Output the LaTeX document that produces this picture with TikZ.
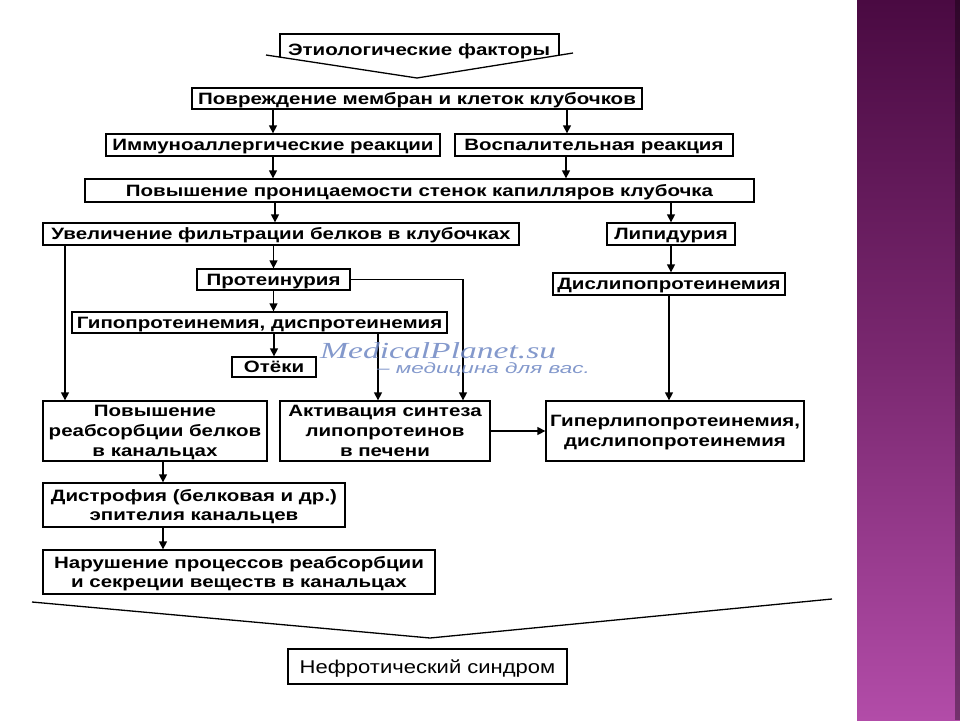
\documentclass[tikz,border=0pt]{standalone}
\usepackage{fontspec}
\setmainfont{Liberation Sans}
\newfontfamily\boxfont{Liberation Sans}[FakeStretch=1.25]
\newfontfamily\endfont{Liberation Sans}[FakeStretch=1.19]
\newfontfamily\wmfont{Liberation Serif}[FakeStretch=1.46]
\newfontfamily\wmsmall{Liberation Sans}[FakeStretch=1.5]
\usetikzlibrary{arrows.meta,calc}

\definecolor{plumtop}{RGB}{74,10,66}
\definecolor{plummid}{RGB}{122,40,112}
\definecolor{plumbot}{RGB}{178,76,168}
\definecolor{wmblue}{RGB}{110,135,195}

\tikzset{
  box/.style={draw, line width=1.3pt, inner sep=0pt, align=center,
    text depth=0pt,
    font=\boxfont\bfseries\fontsize{16.4}{19.8}\selectfont},
  sbox/.style={box, text height=11.7pt},
  arr/.style={line width=1.3pt, -{Triangle[length=8pt,width=8pt]}},
  ln/.style={line width=1.3pt}
}

\begin{document}
\begin{tikzpicture}[x=1pt,y=-1pt]
    \useasboundingbox (0,0) rectangle (960,720);

    % side strip
    \shade[top color=plumtop, bottom color=plumbot, middle color=plummid] (857,0) rectangle (960,720);
    \fill[black, opacity=0.35] (955,0) rectangle (960,720);

    % Etiology
    \node[text height=11.7pt, text depth=0pt, font=\boxfont\bfseries\fontsize{16.4}{19.8}\selectfont] (etio) at (419,50) {Этиологические факторы};
    \draw[ln] (280,57) -- (280,34) -- (559,34) -- (559,55);
    \draw[ln] (266,55) -- (417,78) -- (573,53);

    % Glomerular damage
    \node[sbox, minimum width=450, minimum height=21] (damage) at (417,98.5) {Повреждение мембран и клеток клубочков};
    \node[sbox, minimum width=334, minimum height=22] (immuno) at (273,145) {Иммуноаллергические реакции};
    \node[sbox, minimum width=278, minimum height=22] (inflam) at (594,145) {Воспалительная реакция};
    \node[sbox, minimum width=669, minimum height=23] (perm) at (419.5,190.5) {Повышение проницаемости стенок капилляров клубочка};

    % Proteins
    \node[sbox, minimum width=476, minimum height=22] (filtr) at (281,234) {Увеличение фильтрации белков в клубочках};
    \node[sbox, minimum width=153, minimum height=21] (prot) at (273.5,279.5) {Протеинурия};
    \node[sbox, minimum width=375, minimum height=21] (hypo) at (259.5,322.5) {Гипопротеинемия, диспротеинемия};
    \node[sbox, minimum width=84, minimum height=20] (edema) at (274,367) {Отёки};

    % Lipids
    \node[sbox, minimum width=128, minimum height=22] (lipid) at (671,234) {Липидурия};
    \node[sbox, minimum width=232, minimum height=22] (dyslip) at (669,284) {Дислипопротеинемия};

    % Lower row
    \node[box, minimum width=224, minimum height=60] (reabs) at (155,431) {Повышение\\реабсорбции белков\\в канальцах};
    \node[box, minimum width=210, minimum height=60] (activ) at (385,431) {Активация синтеза\\липопротеинов\\в печени};
    \node[box, minimum width=258, minimum height=60] (hyperlip) at (675,431) {Гиперлипопротеинемия,\\дислипопротеинемия};
    \node[box, minimum width=302, minimum height=44] (dystr) at (194,505) {Дистрофия (белковая и др.)\\эпителия канальцев};
    \node[box, minimum width=392, minimum height=44] (disorder) at (239,572) {Нарушение процессов реабсорбции\\и секреции веществ в канальцах};

    % Result
    \draw[ln] (32,602) -- (430,638) -- (832,599);
    \node[box, text height=13.2pt, font=\endfont\fontsize{18.5}{18.5}\selectfont, minimum width=279, minimum height=35] (nephr) at (427.5,666.5) {Нефротический синдром};

    % Arrows
    \draw[arr] (immuno.north |- damage.south) -- (immuno.north);
    \draw[arr] (damage.south -| 567,0) -- (inflam.north -| 567,0);
    \draw[arr] (immuno.south) -- (immuno.south |- perm.north);
    \draw[arr] (inflam.south -| 566,0) -- (perm.north -| 566,0);
    \draw[arr] (perm.south -| 275,0) -- (filtr.north -| 275,0);
    \draw[arr] (lipid.north |- perm.south) -- (lipid.north);
    \draw[arr] (prot.north |- filtr.south) -- (prot.north);
    \draw[arr] (filtr.south -| 65,0) -- (reabs.north -| 65,0);
    \draw[arr] (prot.south) -- (prot.south |- hypo.north);
    \draw[arr] (prot.east) -| (activ.north -| 463,0);
    \draw[arr] (edema.north |- hypo.south) -- (edema.north);
    \draw[arr] (hypo.south -| 378,0) -- (activ.north -| 378,0);
    \draw[arr] (lipid.south) -- (lipid.south |- dyslip.north);
    \draw[arr] (dyslip.south) -- (dyslip.south |- hyperlip.north);
    \draw[arr] (activ.east) -- (activ.east -| hyperlip.west);
    \draw[arr] (reabs.south -| 163,0) -- (dystr.north -| 163,0);
    \draw[arr] (dystr.south -| 163,0) -- (disorder.north -| 163,0);

    % Watermark
    \node[text=wmblue, opacity=0.85, inner sep=0pt, anchor=base west, font=\wmfont\itshape\fontsize{23}{23}\selectfont] (wm) at (320,358) {MedicalPlanet.su};
    \node[text=wmblue, opacity=0.85, inner sep=0pt, anchor=base west, font=\wmsmall\itshape\fontsize{15}{15}\selectfont] (wmsub) at (377,373) {– медицина для вас.};
\end{tikzpicture}
\end{document}
